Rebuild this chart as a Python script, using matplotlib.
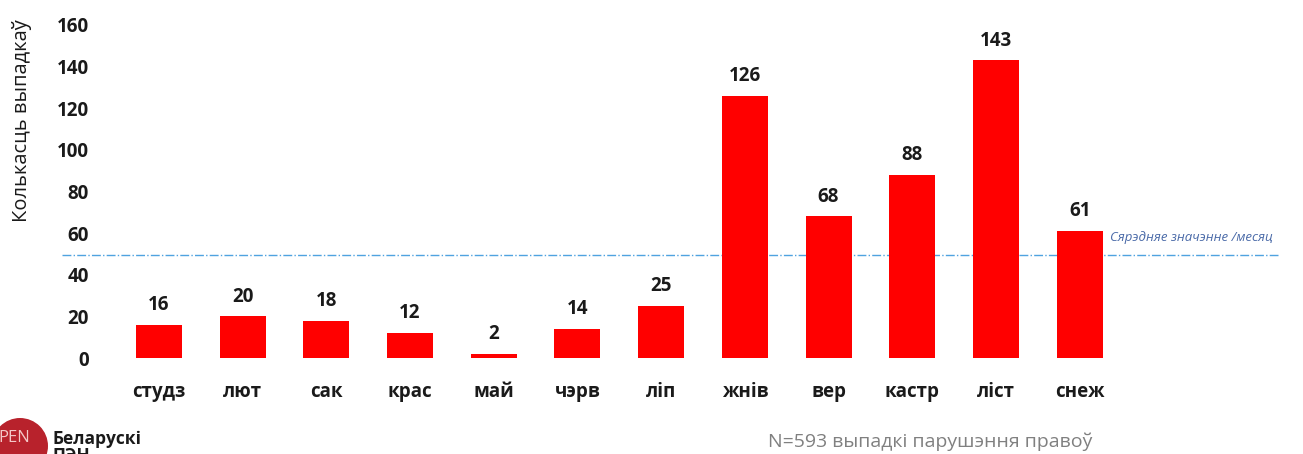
import matplotlib
matplotlib.use("Agg")
import matplotlib.pyplot as plt
from matplotlib.patches import Circle

plt.rcParams['font.family'] = ['Open Sans', 'DejaVu Sans']

# data
months = ['студз', 'лют', 'сак', 'крас', 'май', 'чэрв', 'ліп', 'жнів', 'вер', 'кастр', 'ліст', 'снеж']
cases = [16, 20, 18, 12, 2, 14, 25, 126, 68, 88, 143, 61]
yticks = [0, 20, 40, 60, 80, 100, 120, 140, 160]
total = 593
avg = total / 12.0

W, H = 1303, 454
fig = plt.figure(figsize=(W / 100, H / 100), dpi=100)
ax = fig.add_axes([100 / W, (H - 358) / H, (1278 - 100) / W, (358 - 25) / H])

x = list(range(len(months)))
ax.bar(x, cases, width=0.55, color='#ff0000', zorder=2)
for xi, v in zip(x, cases):
    ax.annotate(str(v), (xi, v), xytext=(0, 7), textcoords='offset points',
                ha='center', va='bottom', fontsize=13.5, fontweight='bold', color='#1a1a1a')

ax.set_xlim(-0.705, 13.37)
ax.set_ylim(0, 160)
ax.set_xticks(x)
ax.set_xticklabels(months, fontsize=13.5, fontweight='bold', color='#1a1a1a')
ax.set_yticks(yticks)
ax.set_yticklabels([str(t) for t in yticks], fontsize=13.5, fontweight='bold', color='#1a1a1a')
ax.tick_params(axis='both', length=0)
ax.tick_params(axis='x', pad=17)
ax.tick_params(axis='y', pad=8)
for s in ax.spines.values():
    s.set_visible(False)

# average line
ax.axhline(avg, xmin=-38 / 1178, xmax=1.0, color='#4fa3e0', lw=1, ls='-.', clip_on=False, zorder=1)
ax.text(1110, H - 237, 'Сярэдняе значэнне /месяц', transform=None, fontsize=9.5,
        style='italic', color='#4a6aa8', va='center', ha='left')

fig.text(22 / W, 1 - 121 / H, 'Колькасць выпадкаў', rotation=90, fontsize=14.5,
         color='#1a1a1a', ha='center', va='center')

fig.text(768 / W, 1 - 442 / H, 'N=593 выпадкі парушэння правоў', fontsize=14,
         color='#808080', ha='left', va='center')

# logo
logo = Circle((20, H - 446), 28, transform=None, facecolor='#b8222c', edgecolor='none')
fig.patches.append(logo)
fig.text(14 / W, 1 - 438 / H, 'PEN', color='#f4c8c8', fontsize=12, ha='center', va='center')
fig.text(52 / W, 1 - 430 / H, 'Беларускі\nПЭН', fontsize=12.5, fontweight='bold',
         color='#1a1a1a', ha='left', va='top', linespacing=0.9)

fig.savefig('out.png', dpi=100)
